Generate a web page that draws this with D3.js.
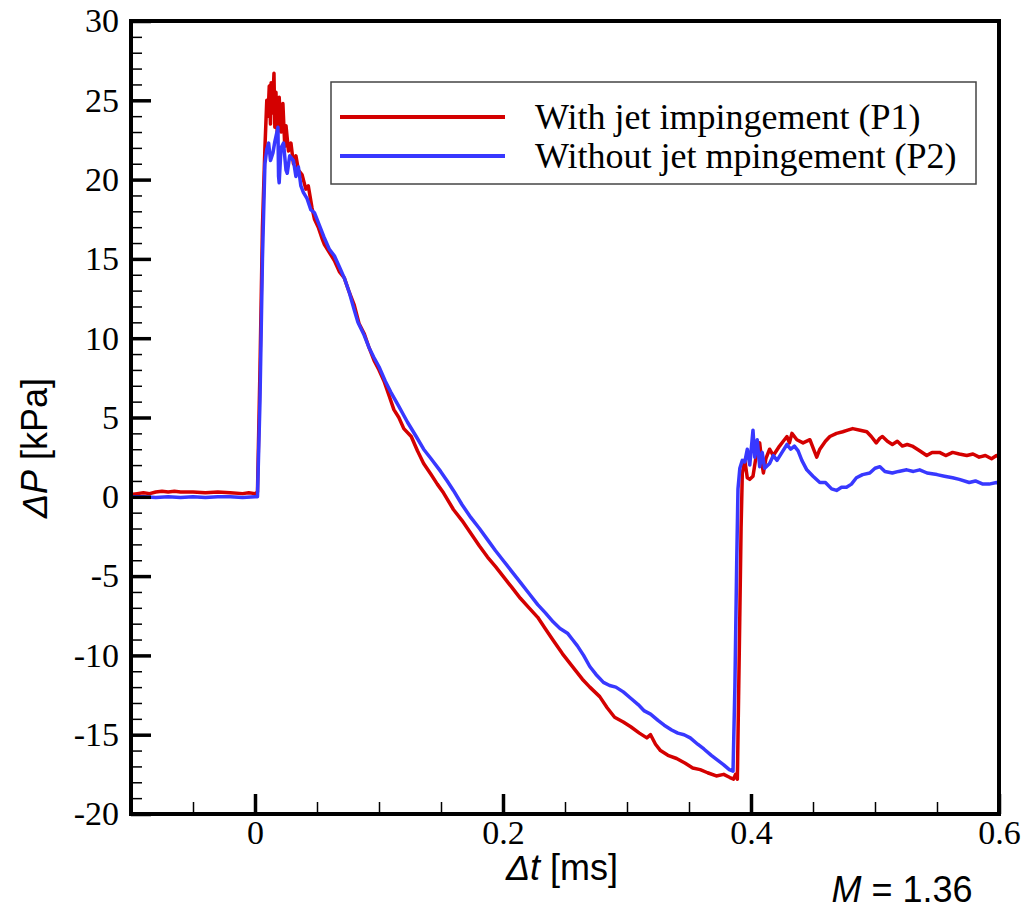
<!DOCTYPE html>
<html>
<head>
<meta charset="utf-8">
<script src="https://cdn.jsdelivr.net/npm/d3@7"></script>
<style>
  body { margin: 0; background: #fff; }
  svg { display: block; }
</style>
</head>
<body>
<script>
// pressure traces (t in ms, dP in kPa)
const tRed = [-0.1, -0.095, -0.09, -0.085, -0.08, -0.075, -0.07, -0.065, -0.06, -0.05, -0.04, -0.03, -0.02, -0.01, -0.005, 0.0, 0.002,
  0.004, 0.006, 0.008, 0.0095, 0.0105, 0.0115, 0.0125, 0.013, 0.014, 0.0153, 0.016, 0.0169, 0.018, 0.0195, 0.021, 0.0225, 0.024, 0.025, 0.027, 0.029,
  0.031, 0.033, 0.035, 0.038, 0.041, 0.043, 0.046, 0.048, 0.051, 0.054, 0.056, 0.06, 0.064, 0.068, 0.072, 0.076, 0.08, 0.084, 0.088, 0.092, 0.096,
  0.1, 0.104, 0.108, 0.112, 0.116, 0.12, 0.126, 0.131, 0.136, 0.142, 0.147, 0.152, 0.16, 0.167, 0.174, 0.181, 0.1875, 0.194, 0.2, 0.207, 0.214,
  0.221, 0.228, 0.234, 0.24, 0.248, 0.257, 0.264, 0.27, 0.278, 0.284, 0.29, 0.297, 0.303, 0.31, 0.316, 0.319, 0.323, 0.327, 0.333, 0.34, 0.347,
  0.353, 0.359, 0.365, 0.372, 0.378, 0.383, 0.386, 0.3875, 0.389,
  0.3905, 0.392, 0.393, 0.395, 0.397, 0.399, 0.4016, 0.404, 0.407, 0.409, 0.41, 0.412, 0.415, 0.418, 0.423, 0.426, 0.429, 0.431, 0.433, 0.437,
  0.442, 0.4475, 0.451, 0.453, 0.4555, 0.46, 0.4636, 0.469, 0.474, 0.478, 0.482, 0.488, 0.4934, 0.497, 0.501, 0.504, 0.506, 0.51, 0.514, 0.518,
  0.522, 0.526, 0.53, 0.536, 0.5417, 0.546, 0.552, 0.557, 0.5626, 0.568, 0.574, 0.579, 0.584, 0.589, 0.594, 0.598, 0.6]
const pRed = [0.15, 0.2, 0.25, 0.2, 0.3, 0.35, 0.3, 0.35, 0.3, 0.3, 0.25, 0.3, 0.25, 0.2, 0.25, 0.2, 0.3,
  8, 17, 22, 25.0, 24, 25.9, 23.5, 26.1, 24.2, 26.7, 23.3, 25.5, 22.8, 25.2, 23.0, 24.8, 22.1, 23.4, 21.8, 22.3,
  21.0, 21.5, 20.6, 20.3, 19.4, 19.6, 18.2, 17.5, 17.0, 16.3, 15.9, 15.4, 14.9, 14.2, 13.8, 12.9, 12.1, 10.9, 10.3, 9.4, 8.6,
  8.0, 7.3, 6.4, 5.5, 5.0, 4.3, 3.8, 2.9, 2.1, 1.4, 0.8, 0.25, -0.8, -1.5, -2.3, -3.1, -3.8, -4.4, -5.0, -5.7, -6.4,
  -7.0, -7.6, -8.3, -9.0, -9.9, -10.8, -11.5, -12.0, -12.6, -13.3, -13.9, -14.2, -14.5, -14.9, -15.2, -15.0, -15.6, -16.0, -16.3, -16.5, -16.8,
  -17.1, -17.2, -17.4, -17.6, -17.5, -17.7, -17.8, -17.5, -17.8,
  -10, -2, 1.5, 2.3, 1.2, 1.1, 1.3, 2.5, 3.4, 2.0, 1.5, 2.4, 3.0, 2.6, 3.2, 3.5, 3.8, 3.4, 4.0, 3.6,
  3.4, 3.6, 2.9, 2.5, 3.0, 3.5, 3.8, 4.0, 4.1, 4.2, 4.3, 4.2, 4.1, 3.8, 3.4, 3.7, 3.8, 3.5, 3.3, 3.5,
  3.2, 3.3, 3.2, 2.9, 2.6, 2.8, 2.8, 2.6, 2.8, 2.7, 2.6, 2.7, 2.5, 2.6, 2.4, 2.6, 2.5]

const tBlue = [-0.1, -0.09, -0.08, -0.07, -0.06, -0.05, -0.04, -0.03, -0.02, -0.01, 0, 0.002,
  0.004, 0.006, 0.008, 0.0095, 0.011, 0.0125, 0.0145, 0.016, 0.018, 0.0185, 0.019, 0.0195, 0.021, 0.023, 0.025, 0.026, 0.028, 0.031, 0.033,
  0.035, 0.037, 0.039, 0.042, 0.045, 0.048, 0.051, 0.0555, 0.06, 0.064, 0.068, 0.072, 0.076, 0.08, 0.083, 0.088, 0.092, 0.0958, 0.1, 0.105,
  0.1095, 0.116, 0.123, 0.13, 0.136, 0.142, 0.1497, 0.155, 0.16, 0.167, 0.174, 0.181, 0.1875, 0.194, 0.2, 0.207, 0.214, 0.221, 0.228, 0.234,
  0.2406, 0.246, 0.252, 0.256, 0.26, 0.265, 0.27, 0.275, 0.281, 0.286, 0.291, 0.297, 0.303, 0.309, 0.314, 0.319, 0.325, 0.33, 0.336, 0.341,
  0.346, 0.351, 0.357, 0.362, 0.368, 0.373, 0.378, 0.3825, 0.3855,
  0.387, 0.3885, 0.3895, 0.391, 0.393, 0.395, 0.397, 0.399, 0.4016, 0.403, 0.405, 0.407, 0.409, 0.411, 0.415, 0.418, 0.421, 0.425, 0.429,
  0.432, 0.435, 0.438, 0.441, 0.445, 0.45, 0.4555, 0.46, 0.465, 0.469, 0.473, 0.477, 0.481, 0.485, 0.49, 0.4958, 0.5, 0.504, 0.508, 0.514,
  0.519, 0.5256, 0.531, 0.536, 0.542, 0.55, 0.556, 0.5626, 0.568, 0.576, 0.581, 0.587, 0.592, 0.598, 0.6]
const pBlue = [0.0, 0.0, -0.05, 0.0, -0.05, 0.0, -0.05, 0.0, 0.0, -0.05, 0.0, 0.0,
  6, 15, 21, 21.9, 22.3, 21.2, 21.7, 22.4, 23.1, 23.3, 20.2, 19.8, 22.0, 22.3, 20.6, 20.4, 21.5, 21.2, 20.2,
  20.8, 19.6, 19.2, 18.8, 18.1, 17.9, 17.3, 16.4, 15.6, 15.2, 14.5, 13.8, 12.9, 11.8, 11.0, 10.2, 9.4, 8.8, 8.2, 7.3,
  6.6, 5.7, 4.7, 3.8, 3.0, 2.4, 1.6, 1.0, 0.4, -0.5, -1.3, -2.0, -2.7, -3.4, -4.0, -4.7, -5.4, -6.1, -6.8, -7.3,
  -7.9, -8.3, -8.6, -9.0, -9.4, -10.0, -10.7, -11.2, -11.7, -11.9, -12.0, -12.3, -12.7, -13.1, -13.5, -13.7, -14.1, -14.4, -14.7, -14.9,
  -15.0, -15.2, -15.6, -15.9, -16.3, -16.6, -16.9, -17.2, -17.3,
  -12, -4, 0.5, 1.8, 2.3, 2.2, 3.0, 2.0, 4.2, 2.5, 3.6, 1.9, 2.8, 1.8, 2.1, 2.6, 2.3, 2.8, 3.3,
  3.0, 3.2, 2.9, 2.3, 1.7, 1.3, 0.9, 0.9, 0.5, 0.4, 0.6, 0.6, 0.8, 1.2, 1.4, 1.5, 1.8, 1.9, 1.6, 1.5,
  1.6, 1.7, 1.6, 1.7, 1.5, 1.4, 1.3, 1.2, 1.1, 0.9, 1.0, 0.8, 0.8, 0.9, 0.85]

const seriesNames = ["With jet impingement (P1)", "Without jet mpingement (P2)"]
const seriesColors = ["#d40000", "#3838ff"]

const xMajor = [0, 0.2, 0.4, 0.6]
const xMinor = [-0.05, 0.05, 0.1, 0.15, 0.25, 0.3, 0.35, 0.45, 0.5, 0.55]
const yMajor = [-20, -15, -10, -5, 0, 5, 10, 15, 20, 25, 30]

const W = 1026, H = 913
const margin = { top: 21, right: 27, bottom: 99, left: 131 }

const svg = d3.select("body").append("svg")
    .attr("width", W)
    .attr("height", H)

const x = d3.scaleLinear()
    .domain([-0.1, 0.6])
    .range([margin.left, W - margin.right])

const y = d3.scaleLinear()
    .domain([-20, 30])
    .range([H - margin.bottom, margin.top])

const yMinor = d3.range(-20, 31, 1).filter(v => v % 5 != 0)

svg.append("clipPath").attr("id", "clip")
  .append("rect")
    .attr("x", margin.left)
    .attr("y", margin.top)
    .attr("width", W - margin.left - margin.right)
    .attr("height", H - margin.top - margin.bottom)

const line = d3.line()
    .x(d => x(d[0]))
    .y(d => y(d[1]))

const red = tRed.map((t, i) => [t, pRed[i]])
const blue = tBlue.map((t, i) => [t, pBlue[i]])

const plot = svg.append("g").attr("clip-path", "url(#clip)")

plot.append("path")
    .datum(red)
    .attr("d", line)
    .attr("fill", "none")
    .attr("stroke", seriesColors[0])
    .attr("stroke-width", 3.5)
    .attr("stroke-linejoin", "round")

plot.append("path")
    .datum(blue)
    .attr("d", line)
    .attr("fill", "none")
    .attr("stroke", seriesColors[1])
    .attr("stroke-width", 3.5)
    .attr("stroke-linejoin", "round")

// axes, ticks pointing inward
const xb = H - margin.bottom
const yl = margin.left

const gx = svg.append("g")
    .attr("transform", `translate(0,${xb})`)
    .call(d3.axisBottom(x).tickValues(xMajor).tickSize(-20).tickPadding(6).tickFormat(d => String(d)))
gx.append("g")
    .call(d3.axisBottom(x).tickValues(xMinor).tickSize(-12).tickFormat(""))

const gy = svg.append("g")
    .attr("transform", `translate(${yl},0)`)
    .call(d3.axisLeft(y).tickValues(yMajor).tickSize(-20).tickPadding(12).tickFormat(d => String(d)))
gy.append("g")
    .call(d3.axisLeft(y).tickValues(yMinor).tickSize(-11).tickFormat(""))

svg.selectAll(".domain").remove()
svg.selectAll(".tick line").attr("stroke", "#000").attr("stroke-width", 1.5)
gx.selectAll(".tick line").filter(d => xMajor.includes(d)).attr("stroke-width", 3.5)
gy.selectAll(".tick line").filter(d => yMajor.includes(d)).attr("stroke-width", 3.5)
svg.selectAll(".tick text")
    .attr("font-family", "'Liberation Serif', 'Times New Roman', serif")
    .attr("font-size", 34)
    .attr("fill", "#000")

// frame
svg.append("rect")
    .attr("x", margin.left)
    .attr("y", margin.top)
    .attr("width", W - margin.left - margin.right)
    .attr("height", H - margin.top - margin.bottom)
    .attr("fill", "none")
    .attr("stroke", "#000")
    .attr("stroke-width", 4)

// legend
const lg = svg.append("g")
lg.append("rect")
    .attr("x", 331).attr("y", 82)
    .attr("width", 645).attr("height", 102)
    .attr("fill", "#fff")
    .attr("stroke", "#444")
    .attr("stroke-width", 1.5)

seriesNames.forEach((name, i) => {
    const ly = 117 + i * 39
    lg.append("line")
        .attr("x1", 340).attr("x2", 505)
        .attr("y1", ly).attr("y2", ly)
        .attr("stroke", seriesColors[i])
        .attr("stroke-width", 4)
    lg.append("text")
        .attr("x", 535).attr("y", ly + 12)
        .attr("font-family", "'Liberation Serif', 'Times New Roman', serif")
        .attr("font-size", 36)
        .text(name)
})

// axis titles
const sans = "'Liberation Sans', Arial, sans-serif"

const ytitle = svg.append("text")
    .attr("transform", "translate(47,448) rotate(-90)")
    .attr("text-anchor", "middle")
    .attr("font-family", sans)
    .attr("font-size", 36)
ytitle.append("tspan").attr("font-style", "italic").text("ΔP")
ytitle.append("tspan").text(" [kPa]")

const xtitle = svg.append("text")
    .attr("x", 562).attr("y", 880)
    .attr("text-anchor", "middle")
    .attr("font-family", sans)
    .attr("font-size", 36)
xtitle.append("tspan").attr("font-style", "italic").text("Δt")
xtitle.append("tspan").text(" [ms]")

const mach = svg.append("text")
    .attr("x", 902).attr("y", 902)
    .attr("text-anchor", "middle")
    .attr("font-family", sans)
    .attr("font-size", 36)
mach.append("tspan").attr("font-style", "italic").text("M")
mach.append("tspan").text(" = 1.36")
</script>
</body>
</html>
